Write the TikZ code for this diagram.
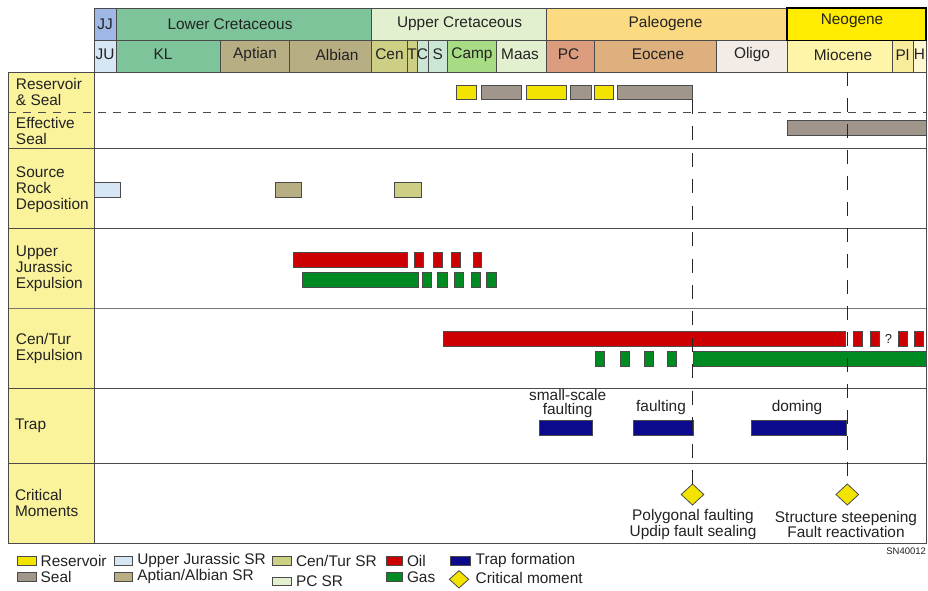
\documentclass[tikz,border=0pt]{standalone}
\usepackage{fontspec}
\setmainfont{Liberation Sans}
\usetikzlibrary{shapes.geometric}
\definecolor{cJJ}{HTML}{A0B8E6}
\definecolor{cJU}{HTML}{D7E6F4}
\definecolor{cLK}{HTML}{7EC49A}
\definecolor{cApt}{HTML}{B8AE84}
\definecolor{cUK}{HTML}{E3F0CF}
\definecolor{cCen}{HTML}{CDD084}
\definecolor{cCS}{HTML}{CCE6D6}
\definecolor{cCamp}{HTML}{A7DC84}
\definecolor{cPal}{HTML}{FBDA82}
\definecolor{cPC}{HTML}{DC9C7E}
\definecolor{cEoc}{HTML}{DDB07E}
\definecolor{cOlig}{HTML}{F3EBE5}
\definecolor{cNeo}{HTML}{FFEC00}
\definecolor{cMio}{HTML}{FFF5A8}
\definecolor{cPl}{HTML}{F8EC9C}
\definecolor{cH}{HTML}{FFF7CF}
\definecolor{cLab}{HTML}{FAF39C}
\definecolor{cRes}{HTML}{F2E400}
\definecolor{cSeal}{HTML}{A0968C}
\definecolor{cOil}{HTML}{CC0000}
\definecolor{cGas}{HTML}{008A22}
\definecolor{cTrap}{HTML}{0B0A8C}
\definecolor{cLine}{HTML}{4A4A4A}
\definecolor{cTxt}{HTML}{222222}
\tikzset{
  every node/.style={inner sep=0pt, outer sep=0pt},
  hcellbox/.style={draw=cLine, line width=0.9pt},
  barbox/.style={draw=cLine, line width=0.8pt},
  gridline/.style={draw=cLine, line width=0.9pt},
  txt/.style={font=\fontsize{15.4}{16}\selectfont, text=cTxt, align=left},
  ctxt/.style={font=\fontsize{15.4}{16}\selectfont, text=cTxt, align=center},
  lab/.style={txt, anchor=west},
  vdash/.style={draw=black!85, line width=0.9pt},
  cmark/.style={shape=diamond, draw=cLine, line width=0.8pt, fill=cRes, minimum width=22.6pt, minimum height=21pt},
}
\newcommand\pbar[5]{\path[barbox,fill=#5] (#1,#2) rectangle (#3,#4);}
\newcommand\hcell[5]{\path[hcellbox,fill=#5] (#1,#2) rectangle (#3,#4);}
\begin{document}
\begin{tikzpicture}[x=1pt,y=-1pt]
\useasboundingbox (0,0) rectangle (928,590);
\fill[white] (0,0) rectangle (928,590);
% label column
\fill[cLab] (8,72) rectangle (94,543);
% header row 1
\hcell{94}{8}{116}{40.5}{cJJ}
\hcell{116}{8}{371}{40.5}{cLK}
\hcell{371}{8}{546}{40.5}{cUK}
\hcell{546}{8}{787}{40.5}{cPal}
% header row 2
\hcell{94}{40.5}{116}{72}{cJU}
\hcell{116}{40.5}{220}{72}{cLK}
\hcell{220}{40.5}{289}{72}{cApt}
\hcell{289}{40.5}{371}{72}{cApt}
\hcell{371}{40.5}{407}{72}{cCen}
\hcell{407}{40.5}{417}{72}{cCen}
\hcell{417}{40.5}{428}{72}{cCS}
\hcell{428}{40.5}{447}{72}{cCS}
\hcell{447}{40.5}{496}{72}{cCamp}
\hcell{496}{40.5}{546}{72}{cUK}
\hcell{546}{40.5}{594}{72}{cPC}
\hcell{594}{40.5}{716}{72}{cEoc}
\hcell{716}{40.5}{787}{72}{cOlig}
\hcell{787}{40.5}{892}{72}{cMio}
\hcell{892}{40.5}{913}{72}{cPl}
\hcell{913}{40.5}{926}{72}{cH}
\path[draw=black, line width=1.4pt, fill=cNeo] (787,8) rectangle (926,40.5);
% header text
\node[ctxt] (hJJ) at (105,24) {JJ};
\node[ctxt] (hLK) at (230,24) {Lower Cretaceous};
\node[ctxt] (hUK) at (459.5,24) {Upper Cretaceous};
\node[ctxt] (hPal) at (665.5,24) {Paleogene};
\node[ctxt] (hNeo) at (852,21) {Neogene};
\node[ctxt] (hJU) at (105,54.5) {JU};
\node[ctxt] (hKL) at (163,54.5) {KL};
\node[ctxt] (hApt) at (255,54.5) {Aptian};
\node[ctxt] (hAlb) at (337,54.5) {Albian};
\node[ctxt] (hCen) at (389.5,54.5) {Cen};
\node[ctxt] (hT) at (412,54.5) {T};
\node[ctxt] (hC) at (422.5,54.5) {C};
\node[ctxt] (hS) at (437.7,54.5) {S};
\node[ctxt] (hCamp) at (472,54.5) {Camp};
\node[ctxt] (hMaas) at (520,54.5) {Maas};
\node[ctxt] (hPC) at (568.5,54.5) {PC};
\node[ctxt] (hEoc) at (658,54.5) {Eocene};
\node[ctxt] (hOlig) at (752,54.5) {Oligo};
\node[ctxt] (hMio) at (843,54.5) {Miocene};
\node[ctxt] (hPl) at (902.5,54.5) {Pl};
\node[ctxt] (hH) at (919.5,54.5) {H};
% grid
\draw[cLine, line width=0.9pt, dash pattern=on 7.5pt off 7.5pt] (8,112) -- (926,112);
\draw[gridline] (8,148) -- (926,148);
\draw[gridline] (8,228) -- (926,228);
\draw[gridline, draw=cLine!75] (8,308) -- (926,308);
\draw[gridline] (8,388) -- (926,388);
\draw[gridline] (8,463.5) -- (926,463.5);
\draw[gridline] (94,72) -- (94,543);
\draw[gridline] (8,72) rectangle (926,543);
% reservoir & seal
\pbar{456.7}{85.7}{476}{99.7}{cRes}
\pbar{481}{85.7}{521}{99.7}{cSeal}
\pbar{526}{85.7}{566}{99.7}{cRes}
\pbar{570}{85.7}{591}{99.7}{cSeal}
\pbar{594}{85.7}{613}{99.7}{cRes}
\pbar{617}{85.7}{692}{99.7}{cSeal}
% effective seal
\pbar{787}{120.7}{926}{135}{cSeal}
% source rock
\pbar{94}{182.7}{120}{197.3}{cJU}
\pbar{275}{182.7}{301.7}{197.3}{cApt}
\pbar{394}{182.7}{421}{197.3}{cCen}
% upper jurassic expulsion
\pbar{293}{252.5}{407.5}{267}{cOil}
\pbar{414.7}{252.5}{423.7}{267}{cOil}
\pbar{433.3}{252.5}{442}{267}{cOil}
\pbar{451.7}{252.5}{460.7}{267}{cOil}
\pbar{473}{252.5}{481.7}{267}{cOil}
\pbar{302.7}{272.3}{418}{287}{cGas}
\pbar{422.3}{272.3}{431.7}{287}{cGas}
\pbar{437.3}{272.3}{447.7}{287}{cGas}
\pbar{454}{272.3}{463.3}{287}{cGas}
\pbar{471}{272.3}{480.3}{287}{cGas}
\pbar{486}{272.3}{496}{287}{cGas}
% cen/tur expulsion
\pbar{443}{331}{845}{346.5}{cOil}
\pbar{853}{331}{862.5}{346.5}{cOil}
\pbar{870.6}{331}{879}{346.5}{cOil}
\pbar{898}{331}{907}{346.5}{cOil}
\pbar{914}{331}{923}{346.5}{cOil}
\node[font=\fontsize{13}{13}\selectfont, text=cTxt] (qm) at (888.5,339) {?};
\pbar{595.7}{351}{604.8}{366.5}{cGas}
\pbar{620}{351}{629}{366.5}{cGas}
\pbar{644}{351}{653}{366.5}{cGas}
\pbar{667.5}{351}{676.7}{366.5}{cGas}
\pbar{693}{351}{926}{366.5}{cGas}
% trap
\pbar{539}{420.4}{592}{435.3}{cTrap}
\pbar{633.5}{420.4}{693}{435.3}{cTrap}
\pbar{751}{420.4}{846}{435.3}{cTrap}
\node[ctxt, font=\fontsize{15.4}{14}\selectfont] (tSmall) at (567.7,403.5) {small-scale\\faulting};
\node[ctxt] (tFault) at (661,408) {faulting};
\node[ctxt] (tDome) at (797,408) {doming};
% critical moments
\node[cmark] (cm1) at (692.5,494.5) {};
\node[cmark] (cm2) at (847.3,494.5) {};
\coordinate (v1top) at (692.5,100);
\coordinate (v2top) at (847.3,72);
\draw[vdash, dash pattern=on 14pt off 12.43pt] (v1top) -- (cm1.north);
\draw[vdash, dash pattern=on 14pt off 12pt] (v2top) -- (cm2.north);
\node[ctxt, font=\fontsize{15.4}{15.6}\selectfont] (cmt1) at (693,524.5) {Polygonal faulting\\Updip fault sealing};
\node[ctxt, font=\fontsize{15.4}{15.6}\selectfont] (cmt2) at (846,524.5) {Structure steepening\\Fault reactivation};
% left labels
\node[lab] (lRes) at (16,92) {Reservoir\\\& Seal};
\node[lab] (lEff) at (16,131) {Effective\\Seal};
\node[lab] (lSrc) at (16,189.5) {Source\\Rock\\Deposition};
\node[lab] (lUJ) at (16,268.5) {Upper\\Jurassic\\Expulsion};
\node[lab] (lCT) at (16,349) {Cen/Tur\\Expulsion};
\node[lab] (lTrap) at (15,425.5) {Trap};
\node[lab] (lCM) at (15,503) {Critical\\Moments};
% id
\node[font=\fontsize{9.5}{10}\selectfont, text=cTxt, anchor=east] (sn) at (926,551) {SN40012};
% legend
\pbar{17.3}{556.5}{36}{565}{cRes}
\pbar{17.3}{572.5}{36}{581}{cSeal}
\pbar{114}{556.5}{132.7}{565}{cJU}
\pbar{114}{572.5}{132.7}{581}{cApt}
\pbar{272.7}{556.5}{291.7}{565}{cCen}
\pbar{272.7}{577}{291.7}{585.5}{cUK}
\pbar{386}{556.5}{402.3}{565}{cOil}
\pbar{386}{572.5}{402.3}{581}{cGas}
\pbar{450.7}{556.5}{470.7}{565}{cTrap}
\node[cmark, minimum width=19.4pt, minimum height=17.4pt] (lgcm) at (459,579.3) {};
\node[lab] (tRes) at (40.7,560.7) {Reservoir};
\node[lab] (tSeal) at (40.7,576.7) {Seal};
\node[lab] (tUJ) at (137.3,560.7) {Upper Jurassic SR};
\node[lab] (tAA) at (137.3,576.7) {Aptian/Albian SR};
\node[lab] (tCT) at (296,560.7) {Cen/Tur SR};
\node[lab] (tPC) at (296,581.5) {PC SR};
\node[lab] (tOil) at (407,560.7) {Oil};
\node[lab] (tGas) at (407,576.7) {Gas};
\node[lab] (tTrap) at (475.7,560.7) {Trap formation};
\node[lab] (tCM) at (475.7,578) {Critical moment};
\end{tikzpicture}
\end{document}
